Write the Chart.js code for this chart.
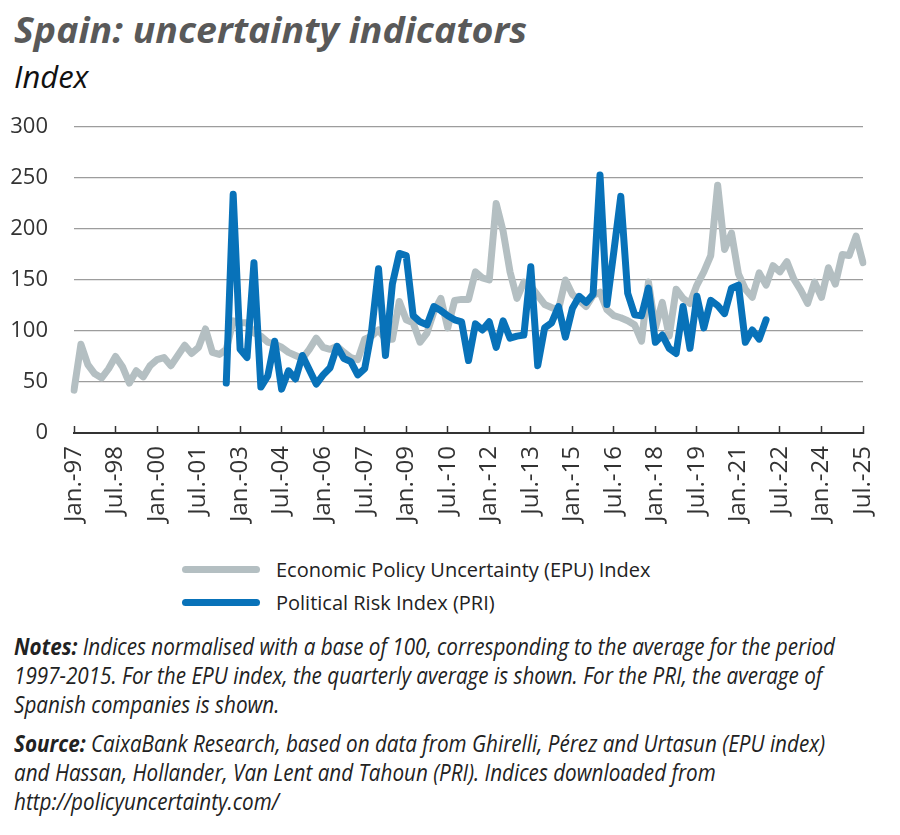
<!DOCTYPE html>
<html>
<head>
<meta charset="utf-8">
<script src="https://cdn.jsdelivr.net/npm/chart.js@4.4.1/dist/chart.umd.min.js"></script>
<style>
body { margin: 0; background: #fff; width: 900px; height: 835px; position: relative; overflow: hidden; font-family: "Open Sans", sans-serif; }
.fit { position: absolute; left: 14px; white-space: nowrap; transform-origin: 0 0; }
#title { top: 12px; font-size: 35px; line-height: 35px; font-weight: 700; font-style: italic; color: #595959; }
#unit { top: 61px; font-size: 31px; line-height: 31px; font-style: italic; color: #111; }
#box { position: absolute; left: 0; top: 110px; width: 900px; height: 430px; }
#legend { position: absolute; left: 182px; top: 553px; }
.row { height: 33px; display: flex; align-items: center; font-size: 20px; color: #222; }
.swatch { width: 78px; height: 7px; border-radius: 4px; margin-right: 16px; }
.note { font-size: 24px; line-height: 29px; font-style: italic; color: #222; }
.note b { font-weight: 700; }
</style>
</head>
<body>
<div id="title" class="fit">Spain: uncertainty indicators</div>
<div id="unit" class="fit">Index</div>
<div id="box"><canvas id="grafik"></canvas></div>
<div id="legend"></div>
<div id="notes" class="fit note" style="top:631px"><span id="n1"><b>Notes:</b> Indices normalised with a base of 100, corresponding to the average for the period</span><br>1997-2015. For the EPU index, the quarterly average is shown. For the PRI, the average of<br>Spanish companies is shown.</div>
<div id="source" class="fit note" style="top:728px"><b>Source:</b> CaixaBank Research, based on data from Ghirelli, Pérez and Urtasun (EPU index)<br>and Hassan, Hollander, Van Lent and Tahoun (PRI). Indices downloaded from<br>http://policyuncertainty.com/</div>

<script>
// quarters Jan-97 .. Jul-25
var months = ['Jan.', 'Apr.', 'Jul.', 'Oct.'];
var quarters = [];
for (var y = 1997; y <= 2025; y++) {
    for (var q = 0; q < 4; q++) {
        if (y === 2025 && q > 2) break;
        quarters.push(months[q] + '-' + String(y).slice(2));
    }
}

var tickLabels = ['Jan.-97', 'Jul.-98', 'Jan.-00', 'Jul.-01', 'Jan.-03', 'Jul.-04', 'Jan.-06',
    'Jul.-07', 'Jan.-09', 'Jul.-10', 'Jan.-12', 'Jul.-13', 'Jan.-15', 'Jul.-16', 'Jan.-18',
    'Jul.-19', 'Jan.-21', 'Jul.-22', 'Jan.-24', 'Jul.-25'];

var yTicks = [0, 50, 100, 150, 200, 250, 300];

// Economic Policy Uncertainty (EPU), quarterly average
var epu = [
    42, 87, 67, 58, 54, 63, 75, 65, 49, 61, 55, 66, 72, 74, 66, 76, 86, 78, 84, 102,
    79, 77, 82, 110, 108, 108, 98, 95, 89, 87, 84, 79, 76, 73, 82, 93, 84, 82, 85, 79,
    74, 72, 92, 95, 101, 92, 92, 129, 111, 108, 89, 98, 119, 132, 103, 130, 131, 131, 158, 152,
    150, 225, 198, 158, 132, 148, 144, 135, 126, 123, 121, 150, 136, 130, 124, 135, 138, 121, 115, 113,
    110, 106, 90, 148, 103, 128, 95, 141, 132, 127, 145, 158, 174, 243, 180, 196, 156, 141, 133, 157,
    145, 164, 158, 168, 151, 140, 127, 148, 133, 162, 146, 175, 174, 193, 167
];

// Political Risk Index (PRI), starts Jul-02
var priStart = [null, null, null, null, null, null, null, null, null, null, null,
    null, null, null, null, null, null, null, null, null, null, null];
var pri = priStart.concat([
    49, 234, 82, 74, 167, 45, 56, 90, 43, 61, 53, 76, 62, 48, 57, 64, 85, 73, 70, 57,
    63, 100, 161, 76, 146, 176, 174, 115, 109, 106, 124, 120, 115, 111, 109, 71, 107, 101, 109, 84,
    110, 93, 95, 96, 163, 66, 103, 108, 124, 94, 122, 134, 128, 136, 253, 126, 178, 232, 137, 116,
    115, 142, 89, 96, 83, 78, 124, 83, 134, 103, 130, 125, 117, 142, 145, 89, 101, 92, 111
]);

var ctx = document.getElementById('grafik').getContext('2d');
var chart = new Chart(ctx, {
    type: 'line',
    data: {
        labels: quarters,
        datasets: [{
            label: 'Economic Policy Uncertainty (EPU) Index',
            data: epu,
            borderColor: '#b4bfc2',
            backgroundColor: '#b4bfc2',
            borderWidth: 7,
            order: 1
        }, {
            label: 'Political Risk Index (PRI)',
            data: pri,
            borderColor: '#0872b9',
            backgroundColor: '#0872b9',
            borderWidth: 7,
            order: 0
        }]
    },
    options: {
        responsive: true,
        maintainAspectRatio: false,
        animation: false,
        layout: { padding: { left: 0, right: 37, top: 17, bottom: 0 } },
        elements: {
            point: { radius: 0, hoverRadius: 0 },
            line: { tension: 0, borderJoinStyle: 'round', borderCapStyle: 'round' }
        },
        plugins: {
            legend: { display: false },
            tooltip: { enabled: false }
        },
        scales: {
            x: {
                grid: {
                    drawOnChartArea: false,
                    drawTicks: true,
                    tickLength: -7,
                    tickWidth: 1.5,
                    tickColor: function (c) { return c.index % 6 === 0 ? '#333' : 'rgba(0,0,0,0)'; }
                },
                border: { color: '#333', width: 2 },
                ticks: {
                    autoSkip: false,
                    minRotation: 90,
                    maxRotation: 90,
                    padding: 20,
                    font: { family: '"Open Sans", sans-serif', size: 24 },
                    color: '#333',
                    callback: function (v, i) { return i % 6 === 0 ? tickLabels[i / 6] : ''; }
                },
                afterFit: function (s) { s.height = 107; s.paddingLeft = 0; s.paddingRight = 0; }
            },
            y: {
                min: 0,
                max: 300,
                afterBuildTicks: function (s) { s.ticks = yTicks.map(function (v) { return { value: v }; }); },
                grid: { color: '#9d9d9d', lineWidth: 1.3, drawTicks: false },
                border: { display: false },
                ticks: { padding: 26, font: { family: '"Open Sans", sans-serif', size: 22 }, color: '#333' },
                afterFit: function (s) { s.width = 74; s.paddingTop = 0; s.paddingBottom = 0; }
            }
        }
    }
});

// legend in html, one row per dataset
var legend = document.getElementById('legend');
chart.data.datasets.forEach(function (ds) {
    var row = document.createElement('div');
    row.className = 'row';
    row.innerHTML = '<span class="swatch" style="background:' + ds.borderColor + '"></span>' + ds.label;
    legend.appendChild(row);
});

// squeeze text blocks to the widths of the reference
function fitTo(el, target) {
    var w = el.getBoundingClientRect().width;
    return target / w;
}
var kt = fitTo(document.getElementById('title'), 513);
document.getElementById('title').style.transform = 'scaleX(' + kt + ')';
var kn = fitTo(document.getElementById('n1'), 821);
document.getElementById('notes').style.transform = 'scaleX(' + kn + ')';
document.getElementById('source').style.transform = 'scaleX(' + kn + ')';
</script>
</body>
</html>
